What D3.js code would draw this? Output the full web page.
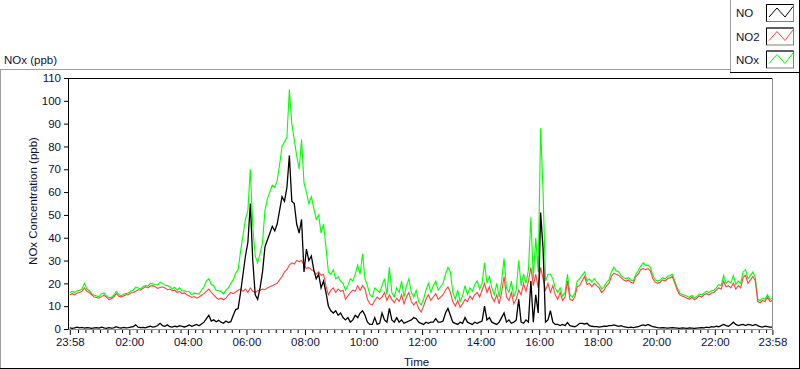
<!DOCTYPE html>
<html><head><meta charset="utf-8">
<script src="https://cdn.jsdelivr.net/npm/d3@7"></script>
<style>
html,body{margin:0;padding:0;background:#fff;}
svg{display:block;}
text{font-family:"Liberation Sans",Arial,sans-serif;}
</style></head>
<body><svg id="c" width="800" height="369"></svg>
<script>
// ---- data (5-minute samples starting 23:58) ----
const startTime = "23:58";
const stepMinutes = 5;
const seriesNames = ["NO", "NO2", "NOx"];
const xTickLabels = ["23:58","02:00","04:00","06:00","08:00","10:00","12:00","14:00","16:00","18:00","20:00","22:00","23:58"];
const yTickValues = [0,10,20,30,40,50,60,70,80,90,100,110];

const noValues = [
0.5,0.3,0.5,0.8,0.5,0.7,0.4,0.6,0.5,0.3,
0.5,0.6,0.4,0.8,0.5,0.3,0.6,0.4,0.5,1.0,
0.6,0.4,0.7,0.5,0.6,0.8,1.0,1.8,0.8,0.6,
0.7,0.5,0.9,1.2,0.8,1.0,1.5,2.5,1.5,1.2,
1.8,1.0,0.8,1.2,1.0,1.5,1.2,0.9,1.3,1.8,
1.2,1.6,2.0,1.4,2.2,3.0,4.5,6.0,3.5,4.0,
3.2,3.8,3.0,2.5,3.5,2.8,3.2,6.0,8.5,9,
16,24,32,38,55,30,15,13,18,25,
36,39,42,45,43,46,52,58,56,62,
76,56,55,46,42,48,25,35,30,32,
26,22,24,18,21,16,10,8,7,8,
6,7,5,4,5,3,4,6,5,7,
8,6,3,2,2,5,2,2.5,7,4,
3,9,4,3,5,3,4,2.5,3,3.5,
4,5,4.5,3,2.5,2,3,2.5,3,3,
4.5,3,3,3.5,7,9,6,3,2.5,2,
3,2.5,5,3,2.5,2,3,2.5,3,3.5,
10,4,5,3,2.5,2,3,5,7,3,
4,2.5,3,4,13,3,2.5,4,3,21,
3,15,7,51,35,3,4,8,3,2,
2,1.5,2,1.5,2.8,1.5,1.2,1,1.5,2.5,
2.5,2.2,2.5,1.5,1.2,1,1,0.8,1,1.2,
1.2,1.5,1.5,1.8,1.5,1.2,1.5,1,0.8,0.6,
0.8,0.6,0.8,1,1.5,1.8,1.5,2,1.5,1,
0.8,0.6,0.5,0.6,0.5,0.4,0.5,0.6,0.5,0.4,
0.3,0.5,0.4,0.3,0.5,0.4,0.3,0.4,0.5,0.6,
0.5,0.8,0.6,1,0.8,1.2,1,1.5,2,1.5,
1.2,2,3,2,1.5,1.8,2,1.5,2,1.8,
1.5,2,1.5,1,0.8,1.2,1,0.8,0.8];

const no2Values = [
15,15.5,15,15.8,16,16.5,18,16.5,16,15,
14,13.8,13.5,14.2,14.8,14,13,13.2,14,15.5,
14.5,14,14.5,15,15,15.8,16,16.5,17.2,17,
17.8,18.5,18,18.8,19,18.5,17.8,18.2,18.5,18,
17.2,17.5,16.8,17,16,16.5,15.5,15.8,15,14.5,
13.8,14.2,13.5,14,14.8,15.5,16.5,17.5,16,15,
13.8,13,13.5,12.8,13.5,15,16,15.5,16.2,17,
17.5,16.5,17.5,16,18,16.5,16,16.8,17,17.5,
17.2,18,18.5,19,19.5,20,21.5,23,25,26,
28,29,28.5,30,29.5,30,28,26.5,27,26,
25.5,24,25,23.5,24,19,15,17,18,16,
17.5,16.5,17,13,14.5,16,17,16.5,19,17,
19,17.5,13,11,10.5,12.5,14,13,14,16,
12.5,15,13,11.5,13.5,12,15,11,14,16,
12,10.5,12,9,7.5,10,13,15,12.5,14,
15.5,13,14,15,17,18.5,16,12,10,12.5,
9.5,11,13,12,14.5,13,15,16,14,17,
20,16,18.5,14,12,15,11,16,23,14,
12.5,16,11,13,17,15,20,16.5,21,27,
19,24,18,27,22,17,20,16,19,15,
13,16,12.5,14,21,13,12.5,14,18.5,19,
21,23,19.5,20,18.5,20,19,18,16,17,
19,20,23,24.5,24,23.5,22.5,21.5,21,21.5,
20.5,20,23,24,26,26.5,26,26.5,25.5,22,
20.5,20,20.5,21.5,21,22,22.5,23,20,17,
15,14.5,14,13.5,13,14,12.8,13.5,14.5,14,
15,15.5,15,15.8,16,17,18,17.5,21,18.5,
19,18,20,17.5,19,18,22.5,23.5,20,21.5,
23,21,12,11.5,12.5,12,14,12,12.5];

const noxValues = [
16,16.5,16,16.8,17,17.5,20,17.5,16.8,15.5,
14.8,14.5,14.2,15.5,15.8,14.5,13.8,13.8,14.8,16.5,
15.3,14.5,15.2,15.5,15.8,16.5,17,18.3,18,17.6,
18.5,19,18.8,20,19.8,19.5,19.3,20.5,20,19.2,
19,18.5,17.6,18.2,17,18,16.7,16.7,16.3,16.3,
15,15.8,15.5,15.4,17,18.5,21,22,19.5,19,
17,16.8,16.5,15.3,17,18,20,21.5,24.5,26,
34,41,48,52,70,45,32,29,33,38,
52,57,60,63,62,65,72,80,82,84,
105,90,83,76,70,83,64,60,55,58,
53,48,50,42,46,36,25,24,26,22,
23,21,20,17,19,22,21,24,28,24,
33,22,19,15,14,18,17,16,19,22,
15,27,16,14,18,16,21,14,19,22,
16,14,17,12,10.5,13,17,20,16,19,
21,17,18.5,20,24,27,25,16,13,17,
12,14.5,19,15,18,16.5,19.5,21,17.5,20,
29,20,23,18,15,20,14,21,31,18,
16,21,14,17,30,19,24,20,26,49,
22,40,25,88,60,21,24,24,22,18,
16,18,14.5,16,24,15,14,15.5,21,22,
23.5,25,21,22,20.5,22,20.5,19.5,17.5,18.5,
20.5,21.5,25,27,25.5,25,23.5,22.5,22,22.5,
21.5,21,24,25.5,27.5,29,28,28,27,23.5,
21.5,21,21.5,22.5,22,23,23.5,24,21,18,
15.8,15.2,14.8,14.3,13.8,14.8,13.6,14.2,15.3,15,
15.8,16.5,16,16.8,17,18,19.5,19,23.5,20,
21,20,23.5,19.5,21,20,25,26,22,23.5,
25,22.5,13,12.5,13.5,13,15,13,13.5];

// ---- styles ----
const colors = {NO: "#000000", NO2: "#ff4040", NOx: "#00ff00"};
const textColor = "#10103a";

const svg = d3.select("#c");
const W = 800, H = 369;
const plot = {left: 68, right: 772.5, top: 78, bottom: 329.5};

const [sh, sm] = startTime.split(":").map(Number);
const t0 = new Date(2000, 0, 1, sh, sm);
const t1 = new Date(t0.getTime() + 24 * 3600 * 1000);
const timeAt = i => new Date(t0.getTime() + i * stepMinutes * 60000);

const x = d3.scaleTime().domain([t0, t1]).range([69.8, 772.4]);
const y = d3.scaleLinear().domain([0, 110]).range([329, 78]);

// panel borders
svg.append("line").attr("x1",0).attr("x2",730).attr("y1",69.5).attr("y2",69.5).attr("stroke","#a0a0a0");
svg.append("line").attr("x1",0.5).attr("x2",0.5).attr("y1",69).attr("y2",369).attr("stroke","#a0a0a0");
svg.append("line").attr("x1",0).attr("x2",800).attr("y1",368.5).attr("y2",368.5).attr("stroke","#000");
svg.append("line").attr("x1",799.5).attr("x2",799.5).attr("y1",0).attr("y2",369).attr("stroke","#000");

// legend box
svg.append("line").attr("x1",730.5).attr("x2",730.5).attr("y1",0).attr("y2",72).attr("stroke","#a0a0a0");
svg.append("line").attr("x1",730).attr("x2",800).attr("y1",72.5).attr("y2",72.5).attr("stroke","#000");

svg.append("text").attr("x",4).attr("y",64).attr("font-size",11.5).attr("fill",textColor).text("NOx (ppb)");

// clip
svg.append("clipPath").attr("id","clip").append("rect")
  .attr("x",plot.left+1).attr("y",plot.top).attr("width",plot.right-plot.left-1).attr("height",plot.bottom-plot.top);

// lines (NOx first, then NO2, then NO on top)
const dataBy = {NO: noValues, NO2: no2Values, NOx: noxValues};
const line = d3.line().x((d,i)=>x(timeAt(i))).y(d=>y(d));
const g = svg.append("g").attr("clip-path","url(#clip)");
["NOx","NO2","NO"].forEach(name=>{
  g.append("path").datum(dataBy[name]).attr("d", line)
   .attr("fill","none").attr("stroke",colors[name])
   .attr("stroke-width", name==="NO"?1.3:1.1).attr("stroke-linejoin","miter");
});

// plot frame
svg.append("line").attr("x1",plot.left).attr("x2",plot.right).attr("y1",plot.top+0.5).attr("y2",plot.top+0.5).attr("stroke","#000");
svg.append("line").attr("x1",plot.right).attr("x2",plot.right).attr("y1",plot.top).attr("y2",plot.bottom).attr("stroke","#909090");
svg.append("line").attr("x1",plot.left).attr("x2",plot.right+0.5).attr("y1",plot.bottom).attr("y2",plot.bottom).attr("stroke","#909090");
svg.append("line").attr("x1",plot.left+0.5).attr("x2",plot.left+0.5).attr("y1",plot.top).attr("y2",plot.bottom).attr("stroke","#000");

// y axis
const yAxis = d3.axisLeft(y).tickValues(yTickValues).tickSize(4).tickPadding(3);
const gy = svg.append("g").attr("transform",`translate(${plot.left},0)`).call(yAxis);
gy.select(".domain").remove();
gy.selectAll("line").attr("stroke","#000");
gy.selectAll("text").attr("font-size",11.5).attr("fill",textColor).attr("font-family","Liberation Sans, Arial, sans-serif");

// x axis
const parseLabel = (s, idx) => {
  if (idx === 0) return t0;
  if (idx === xTickLabels.length-1) return t1;
  const [h,m] = s.split(":").map(Number);
  return new Date(2000, 0, 2, h, m);
};
const majorTicks = xTickLabels.map(parseLabel);
const minorTicks = d3.timeMinute.every(15).range(t0, t1).filter(d => !majorTicks.some(m => Math.abs(m - d) < 3*60000));
const gxm = svg.append("g").attr("transform",`translate(0,${plot.bottom+0.5})`)
  .call(d3.axisBottom(x).tickValues(minorTicks).tickSize(3).tickFormat(""));
gxm.select(".domain").remove();
gxm.selectAll("line").attr("stroke","#000");
const gx = svg.append("g").attr("transform",`translate(0,${plot.bottom+0.5})`)
  .call(d3.axisBottom(x).tickValues(majorTicks).tickSize(5).tickPadding(3)
    .tickFormat((d,i)=>xTickLabels[i]));
gx.select(".domain").remove();
gx.selectAll("line").attr("stroke","#000");
gx.selectAll("text").attr("font-size",11.5).attr("fill",textColor).attr("font-family","Liberation Sans, Arial, sans-serif");

// axis titles
svg.append("text").attr("x",404).attr("y",366).attr("font-size",11.5).attr("fill",textColor).text("Time");
svg.append("text").attr("transform","translate(37,201) rotate(-90)").attr("text-anchor","middle")
  .attr("font-size",11.5).attr("fill",textColor).text("NOx Concentration (ppb)");

// legend
const legendRows = [4, 27.5, 50.5];
seriesNames.forEach((name, i) => {
  const top = legendRows[i];
  svg.append("text").attr("x",736).attr("y",top+13).attr("font-size",11.5).attr("fill",textColor).text(name);
  svg.append("rect").attr("x",766.5).attr("y",top+0.5).attr("width",27).attr("height",17)
    .attr("fill","#fff").attr("stroke","#808080");
  svg.append("path").attr("d",`M766.5,${top+17.5}V${top+0.5}H793.5`).attr("fill","none").attr("stroke","#000");
  svg.append("path").attr("d",`M769,${top+13}L777,${top+4}L785,${top+13}L793,${top+2.5}`)
    .attr("fill","none").attr("stroke",colors[name]).attr("stroke-width",1);
});
</script></body></html>
